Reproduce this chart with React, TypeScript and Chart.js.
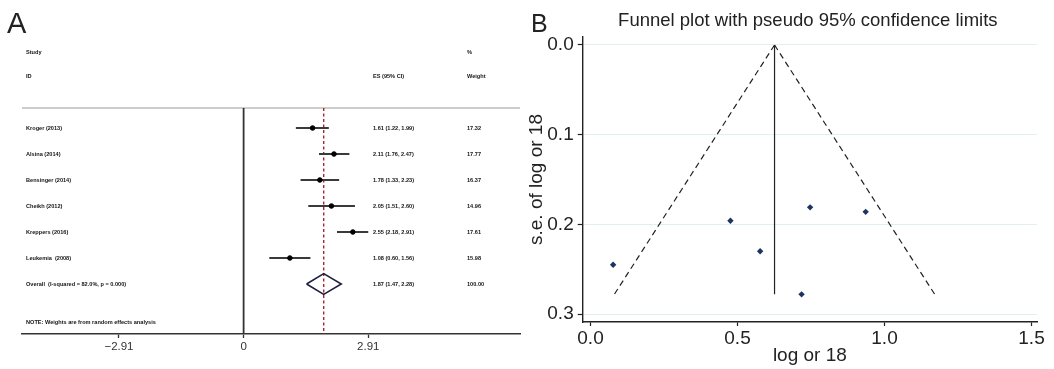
import React, { useEffect, useRef } from "react";
import { Chart, registerables } from "chart.js";
Chart.register(...registerables);

// ---------- Panel A: forest plot data ----------
const studies = ["Kroger (2013)", "Alsina (2014)", "Bensinger (2014)", "Cheikh (2012)", "Kreppers (2016)", "Leukemia  (2008)"];
const es = [1.61, 2.11, 1.78, 2.05, 2.55, 1.08];
const ciLow = [1.22, 1.76, 1.33, 1.51, 2.18, 0.6];
const ciHigh = [1.99, 2.47, 2.23, 2.6, 2.91, 1.56];
const weights = ["17.32", "17.77", "16.37", "14.96", "17.61", "15.98"];
const overallLabel = "Overall  (I-squared = 82.0%, p = 0.000)";
const overallES = [1.87];
const overallLow = [1.47];
const overallHigh = [2.28];
const overallWeight = ["100.00"];
const noteText = "NOTE: Weights are from random effects analysis";
const forestTicks = [-2.91, 0, 2.91];
const forestTickLabels = ["\u22122.91", "0", "2.91"];

// ---------- Panel B: funnel plot data ----------
const funnelLogOR = [0.476, 0.747, 0.577, 0.718, 0.936, 0.077];
const funnelSE = [0.196, 0.181, 0.23, 0.278, 0.186, 0.245];
const pooledLogOR = [0.626];
const funnelSEMax = [0.278];
const funnelLimitLow = [0.081];
const funnelLimitHigh = [1.171];
const funnelXTicks = [0, 0.5, 1.0, 1.5];
const funnelYTicks = [0, 0.1, 0.2, 0.3];
const funnelTitle = "Funnel plot with pseudo 95% confidence limits";

const FONT = '"Liberation Sans", Arial, Helvetica, sans-serif';

// layout constants (forest)
const ROW_STUDY_HDR = -2.923;
const ROW_ID_HDR = -2.0;
const ROW_HDR_LINE = -0.77;
const ROW_OVERALL = 6;
const ROW_NOTE = 7.46;
const F_YMIN = -3.385;
const F_YMAX = 7.923;
const F_XMIN = -5.174;
const F_XMAX = 6.453;
const COL_STUDY = 26;
const COL_ES = 373;
const COL_WT = 467;
const DIAMOND_H = 0.4;

const fmt = (v: number) => v.toFixed(2);

const forestTextPlugin = {
  id: "forestText",
  afterDraw(chart: any) {
    const { ctx } = chart;
    const y = chart.scales.y;
    ctx.save();
    ctx.fillStyle = "#141414";
    ctx.font = `bold 5.6px ${FONT}`;
    ctx.textBaseline = "middle";
    ctx.textAlign = "left";
    ctx.fillText("Study", COL_STUDY, y.getPixelForValue(ROW_STUDY_HDR));
    ctx.fillText("ID", COL_STUDY, y.getPixelForValue(ROW_ID_HDR));
    ctx.fillText("ES (95% CI)", COL_ES, y.getPixelForValue(ROW_ID_HDR));
    ctx.fillText("%", COL_WT, y.getPixelForValue(ROW_STUDY_HDR));
    ctx.fillText("Weight", COL_WT, y.getPixelForValue(ROW_ID_HDR));
    studies.forEach((s, i) => {
      const py = y.getPixelForValue(i);
      ctx.fillText(s, COL_STUDY, py);
      ctx.fillText(`${fmt(es[i])} (${fmt(ciLow[i])}, ${fmt(ciHigh[i])})`, COL_ES, py);
      ctx.fillText(weights[i], COL_WT, py);
    });
    const po = y.getPixelForValue(ROW_OVERALL);
    ctx.fillText(overallLabel, COL_STUDY, po);
    ctx.fillText(`${fmt(overallES[0])} (${fmt(overallLow[0])}, ${fmt(overallHigh[0])})`, COL_ES, po);
    ctx.fillText(overallWeight[0], COL_WT, po);
    ctx.fillText(noteText, COL_STUDY, y.getPixelForValue(ROW_NOTE));
    ctx.restore();
  },
};

const funnelTitlePlugin = {
  id: "funnelTitle",
  afterDraw(chart: any) {
    const { ctx, chartArea } = chart;
    ctx.save();
    ctx.fillStyle = "#222";
    ctx.font = `18.5px ${FONT}`;
    ctx.textAlign = "center";
    ctx.textBaseline = "middle";
    ctx.fillText(funnelTitle, (chartArea.left + chartArea.right) / 2 - 2, 21);
    ctx.restore();
  },
};

function ForestChart() {
  const ref = useRef<HTMLCanvasElement>(null);
  useEffect(() => {
    const ciSets = studies.map((s, i) => ({
      type: "line" as const,
      label: s,
      data: [
        { x: ciLow[i], y: i },
        { x: ciHigh[i], y: i },
      ],
      borderColor: "#3a3a3a",
      borderWidth: 2,
      pointRadius: 0,
      fill: false,
    }));
    const chart = new Chart(ref.current as HTMLCanvasElement, {
      type: "scatter",
      data: {
        datasets: [
          {
            type: "scatter",
            label: "ES",
            data: es.map((v, i) => ({ x: v, y: i })),
            backgroundColor: "#000",
            borderColor: "#000",
            pointRadius: 2.3,
          },
          {
            type: "line",
            label: "Overall",
            data: [
              { x: overallLow[0], y: ROW_OVERALL },
              { x: overallES[0], y: ROW_OVERALL - DIAMOND_H },
              { x: overallHigh[0], y: ROW_OVERALL },
              { x: overallES[0], y: ROW_OVERALL + DIAMOND_H },
              { x: overallLow[0], y: ROW_OVERALL },
            ],
            borderColor: "#1d1f3d",
            borderWidth: 1.6,
            pointRadius: 0,
            fill: false,
          },
          ...ciSets,
          {
            type: "line",
            label: "overall line",
            data: [
              { x: overallES[0], y: ROW_HDR_LINE },
              { x: overallES[0], y: F_YMAX },
            ],
            borderColor: "#a8272c",
            borderWidth: 1.4,
            borderDash: [3, 2.5],
            pointRadius: 0,
          },
          {
            type: "line",
            label: "null line",
            data: [
              { x: 0, y: ROW_HDR_LINE },
              { x: 0, y: F_YMAX },
            ],
            borderColor: "#333",
            borderWidth: 1.8,
            pointRadius: 0,
          },
          {
            type: "line",
            label: "header line",
            data: [
              { x: F_XMIN, y: ROW_HDR_LINE },
              { x: F_XMAX, y: ROW_HDR_LINE },
            ],
            borderColor: "#bdbdbd",
            borderWidth: 1.4,
            pointRadius: 0,
            clip: false,
          },
        ] as any,
      },
      options: {
        animation: false,
        responsive: false,
        events: [],
        layout: { padding: { left: 22, right: 3, top: 40, bottom: 0 } },
        plugins: { legend: { display: false }, tooltip: { enabled: false } },
        scales: {
          x: {
            type: "linear",
            min: F_XMIN,
            max: F_XMAX,
            afterBuildTicks: (s: any) => {
              s.ticks = forestTicks.map((v) => ({ value: v }));
            },
            afterFit: (s: any) => {
              s.height = 35;
            },
            ticks: {
              autoSkip: false,
              maxRotation: 0,
              padding: 2,
              color: "#333",
              font: { family: FONT, size: 11.5 },
              callback: (_v: any, i: number) => forestTickLabels[i],
            },
            grid: { drawOnChartArea: false, drawTicks: true, tickLength: 4, tickColor: "#333", tickWidth: 1.3 },
            border: { color: "#333", width: 1.6 },
          },
          y: {
            type: "linear",
            reverse: true,
            min: F_YMIN,
            max: F_YMAX,
            display: false,
          },
        },
      },
      plugins: [forestTextPlugin],
    } as any);
    return () => chart.destroy();
  }, []);
  return <canvas ref={ref} width={525} height={369} style={{ position: "absolute", left: 0, top: 0, width: 525, height: 369 }} />;
}

function FunnelChart() {
  const ref = useRef<HTMLCanvasElement>(null);
  useEffect(() => {
    const chart = new Chart(ref.current as HTMLCanvasElement, {
      type: "scatter",
      data: {
        datasets: [
          {
            type: "scatter",
            label: "studies",
            data: funnelLogOR.map((v, i) => ({ x: v, y: funnelSE[i] })),
            pointStyle: "rectRot",
            pointRadius: 3.2,
            backgroundColor: "#1c355e",
            borderColor: "#1c355e",
            borderWidth: 0,
          },
          {
            type: "line",
            label: "pooled",
            data: [
              { x: pooledLogOR[0], y: 0 },
              { x: pooledLogOR[0], y: funnelSEMax[0] },
            ],
            borderColor: "#222",
            borderWidth: 1.2,
            pointRadius: 0,
          },
          {
            type: "line",
            label: "lower limit",
            data: [
              { x: pooledLogOR[0], y: 0 },
              { x: funnelLimitLow[0], y: funnelSEMax[0] },
            ],
            borderColor: "#222",
            borderWidth: 1.2,
            borderDash: [6, 4],
            pointRadius: 0,
          },
          {
            type: "line",
            label: "upper limit",
            data: [
              { x: pooledLogOR[0], y: 0 },
              { x: funnelLimitHigh[0], y: funnelSEMax[0] },
            ],
            borderColor: "#222",
            borderWidth: 1.2,
            borderDash: [6, 4],
            pointRadius: 0,
          },
        ] as any,
      },
      options: {
        animation: false,
        responsive: false,
        events: [],
        layout: { padding: { left: 0, right: 17, top: 37, bottom: 0 } },
        plugins: { legend: { display: false }, tooltip: { enabled: false } },
        scales: {
          x: {
            type: "linear",
            min: -0.0265,
            max: 1.5187,
            afterBuildTicks: (s: any) => {
              s.ticks = funnelXTicks.map((v) => ({ value: v }));
            },
            afterFit: (s: any) => {
              s.height = 47;
            },
            ticks: {
              autoSkip: false,
              maxRotation: 0,
              padding: 1,
              color: "#222",
              font: { family: FONT, size: 19 },
              callback: (v: any) => Number(v).toFixed(1),
            },
            grid: { drawOnChartArea: false, drawTicks: true, tickLength: 4, tickColor: "#222", tickWidth: 1.2 },
            border: { color: "#222", width: 1.4 },
            title: {
              display: true,
              text: "log or 18",
              color: "#222",
              font: { family: FONT, size: 19 },
              padding: { top: 0, bottom: 2 },
            },
          },
          y: {
            type: "linear",
            reverse: true,
            min: -0.0089,
            max: 0.3088,
            afterBuildTicks: (s: any) => {
              s.ticks = funnelYTicks.map((v) => ({ value: v }));
            },
            afterFit: (s: any) => {
              s.width = 57.7;
            },
            ticks: {
              autoSkip: false,
              padding: 4,
              color: "#222",
              font: { family: FONT, size: 19 },
              callback: (v: any) => Number(v).toFixed(1),
            },
            grid: { drawOnChartArea: true, color: "#e3eeee", lineWidth: 1, drawTicks: true, tickLength: 5, tickColor: "#222", tickWidth: 1.2 },
            border: { color: "#222", width: 1.4 },
            title: {
              display: true,
              text: "s.e. of log or 18",
              color: "#222",
              font: { family: FONT, size: 19 },
              padding: { top: 0, bottom: 0 },
            },
          },
        },
      },
      plugins: [funnelTitlePlugin],
    } as any);
    return () => chart.destroy();
  }, []);
  return <canvas ref={ref} width={529} height={369} style={{ position: "absolute", left: 525, top: 0, width: 529, height: 369 }} />;
}

export default function App() {
  return (
    <div style={{ position: "fixed", left: 0, top: 0, width: 1054, height: 369, background: "#fff", overflow: "hidden", fontFamily: FONT }}>
      <ForestChart />
      <FunnelChart />
      <div style={{ position: "absolute", left: 7, top: 6, fontSize: 29, lineHeight: "34px", color: "#222" }}>A</div>
      <div style={{ position: "absolute", left: 531, top: 8, fontSize: 25, lineHeight: "30px", color: "#222" }}>B</div>
    </div>
  );
}
